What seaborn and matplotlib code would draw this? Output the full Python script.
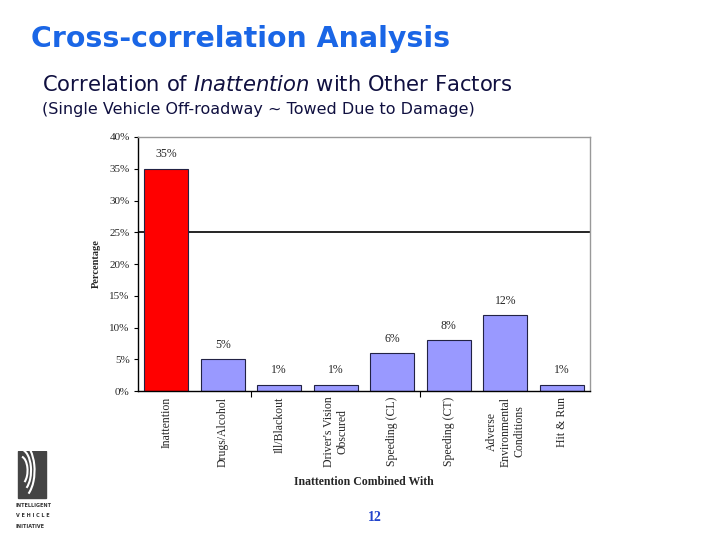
import matplotlib
matplotlib.use('Agg')
import matplotlib.pyplot as plt
import numpy as np
import pandas as pd
import seaborn as sns
from matplotlib.patches import Rectangle, Arc
from matplotlib.ticker import FixedLocator

# Data
factors = ['Inattention', 'Drugs/Alcohol', 'Ill/Blackout', "Driver's Vision\nObscured",
           'Speeding (CL)', 'Speeding (CT)', 'Adverse\nEnvironmental\nConditions', 'Hit & Run']
percent = [35, 5, 1, 1, 6, 8, 12, 1]
bar_colors = ['#ff0000'] + ['#9999ff'] * 7
y_ticks = [0, 5, 10, 15, 20, 25, 30, 35, 40]

df = pd.DataFrame({'Factor': factors, 'Percent': percent})

sns.set_style('white')
plt.rcParams['mathtext.fontset'] = 'dejavusans'
fig = plt.figure(figsize=(7.2, 5.4), dpi=100)
ax = fig.add_axes([0.1917, 0.2759, 0.6277, 0.4704])

sns.barplot(data=df, x='Factor', y='Percent', hue='Factor', palette=bar_colors,
            legend=False, width=0.78, edgecolor='#222244', linewidth=0.8, ax=ax, saturation=1)

ax.set_ylim(0, 40)
ax.set_xlim(-0.5, 7.5)
ax.set_yticks(y_ticks)
ax.set_yticklabels([f'{t}%' for t in y_ticks], family='Liberation Serif', fontsize=8)
ax.set_xticks(range(len(factors)))
ax.set_xticklabels(factors, rotation=90, family='Liberation Serif', fontsize=8.5,
                   va='top', ha='center', multialignment='center')
ax.tick_params(axis='x', length=0, pad=4)
ax.tick_params(axis='y', length=3, width=0.8, color='black', pad=3, left=True)
ax.xaxis.set_minor_locator(FixedLocator([1.5, 4.5]))
ax.tick_params(axis='x', which='minor', length=4, width=0.8, color='black', bottom=True)

# black line at 25%
ax.axhline(25, color='black', linewidth=1.2, zorder=0)

for s in ['top', 'right']:
    ax.spines[s].set_color('#999999')
    ax.spines[s].set_linewidth(1)
for s in ['left', 'bottom']:
    ax.spines[s].set_color('black')
    ax.spines[s].set_linewidth(1)

# value labels
for i, v in enumerate(percent):
    ax.text(i, v + 1.3, f'{v}%', ha='center', va='bottom',
            family='Liberation Serif', fontsize=8.5)

ax.set_ylabel('Percentage', family='Liberation Serif', fontsize=7.5, fontweight='bold', labelpad=6)
ax.set_xlabel('Inattention Combined With', family='Liberation Serif', fontsize=8.5,
              fontweight='bold', labelpad=6)

# Slide text
fig.text(0.043, 0.928, 'Cross-correlation Analysis', color='#1a66e6', fontsize=20.4,
         fontweight='bold', family='DejaVu Sans', va='center')
fig.text(0.058, 0.842, r'Correlation of $\mathit{Inattention}$ with Other Factors',
         color='#101040', fontsize=15.2, va='center', family='DejaVu Sans')
fig.text(0.058, 0.797, '(Single Vehicle Off-roadway ~ Towed Due to Damage)', color='#101040',
         fontsize=11.5, va='center', family='DejaVu Sans')
fig.text(0.521, 0.042, '12', color='#2244cc', fontsize=10, fontweight='bold',
         family='Liberation Serif', ha='center', va='center')

# Logo
lax = fig.add_axes([0.022, 0.02, 0.065, 0.145])
lax.set_xlim(0, 1)
lax.set_ylim(0, 1)
lax.axis('off')
lax.add_patch(Rectangle((0.05, 0.4), 0.6, 0.6, color='#444444'))
for r in [0.3, 0.45, 0.6]:
    lax.add_patch(Arc((0.1, 0.75), r, r * 1.2, theta1=-60, theta2=80, color='white', lw=1.5))
lax.text(0.0, 0.28, 'INTELLIGENT', fontsize=3.5, fontweight='bold', color='#333333')
lax.text(0.0, 0.15, 'V E H I C L E', fontsize=3.5, fontweight='bold', color='#333333')
lax.text(0.0, 0.02, 'INITIATIVE', fontsize=3.5, fontweight='bold', color='#333333')

fig.savefig('out.png', dpi=100)
plt.close(fig)
